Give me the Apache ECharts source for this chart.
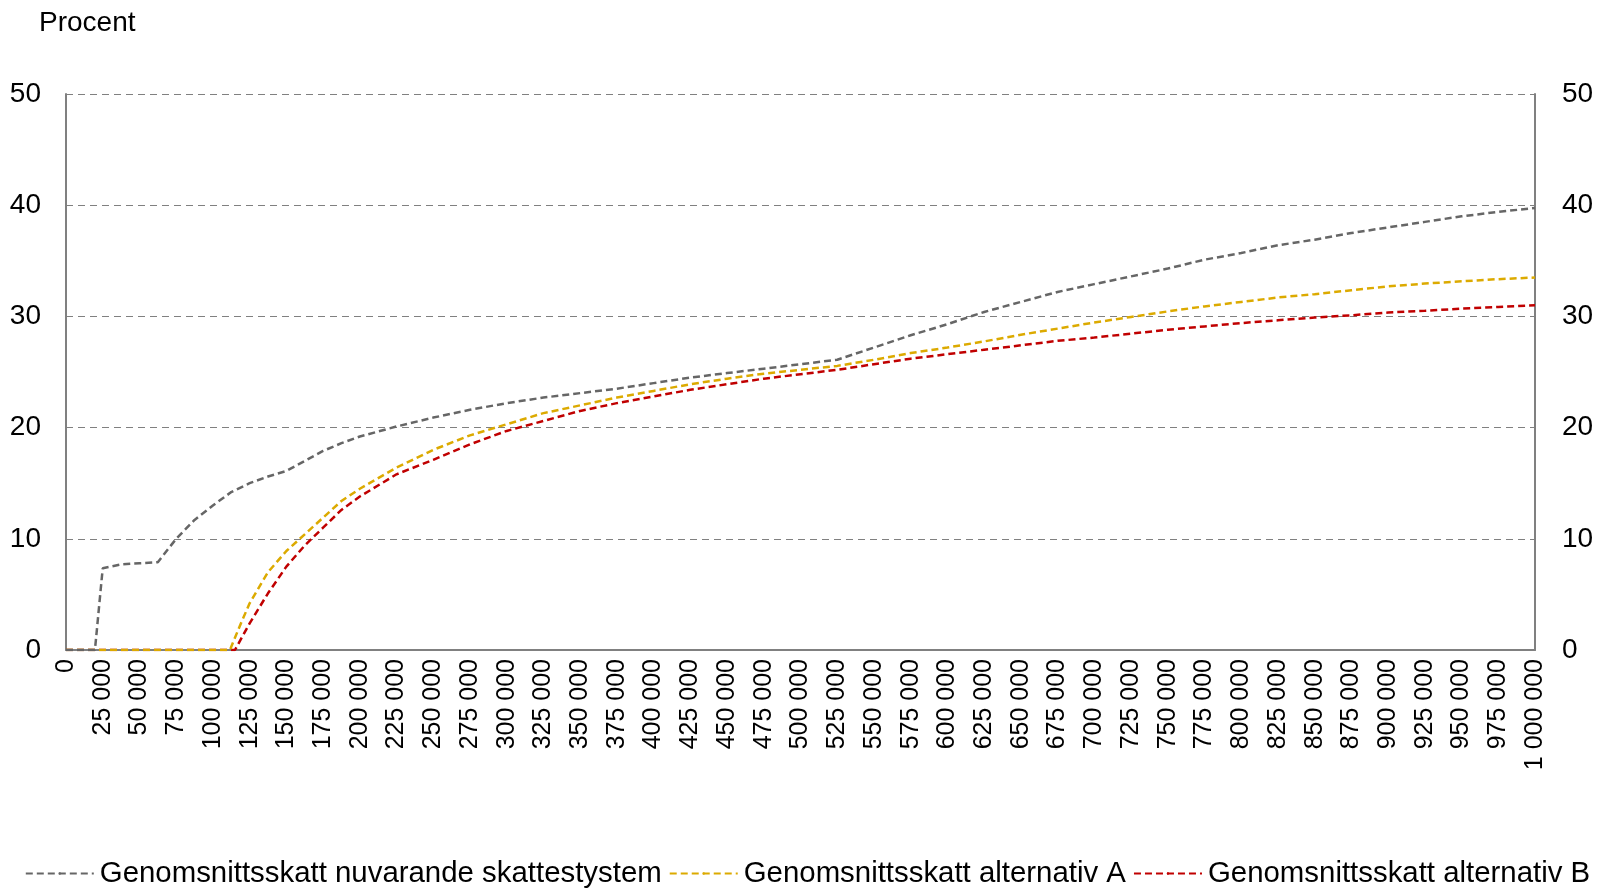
<!DOCTYPE html>
<html>
<head>
<meta charset="utf-8">
<script src="https://cdn.jsdelivr.net/npm/echarts@6/dist/echarts.min.js"></script>
<style>
  html, body { margin: 0; padding: 0; background: #fff; }
  #chart { width: 1615px; height: 891px; }
</style>
</head>
<body>
<div id="chart"></div>
<script>
// Genomsnittsskatt per inkomst (kr), procent
const incomeNow = [0, 19700, 25000, 37500, 50000, 62500, 75000, 87500, 100000, 112500, 125000, 137500, 150000, 162500, 175000, 187500, 200000, 225000, 250000, 275000, 300000, 325000, 350000, 375000, 400000, 425000, 450000, 475000, 500000, 525000, 550000, 575000, 600000, 625000, 650000, 675000, 700000, 725000, 750000, 775000, 800000, 825000, 850000, 875000, 900000, 925000, 950000, 975000, 1000000];
const taxNow = [0, 0, 7.35, 7.7, 7.8, 7.9, 10.0, 11.7, 13.0, 14.2, 15.0, 15.6, 16.1, 17.0, 17.9, 18.6, 19.2, 20.1, 20.9, 21.6, 22.2, 22.7, 23.1, 23.5, 24.0, 24.5, 24.9, 25.3, 25.7, 26.1, 27.2, 28.3, 29.3, 30.4, 31.3, 32.2, 32.9, 33.6, 34.3, 35.1, 35.7, 36.4, 36.9, 37.5, 38.0, 38.5, 39.0, 39.4, 39.75];

const incomeA = [0, 111600, 118750, 125000, 137500, 150000, 162500, 175000, 187500, 200000, 225000, 250000, 275000, 300000, 325000, 350000, 375000, 400000, 425000, 450000, 475000, 500000, 525000, 550000, 575000, 600000, 625000, 650000, 675000, 700000, 725000, 750000, 775000, 800000, 825000, 850000, 875000, 900000, 925000, 950000, 975000, 1000000];
const taxA = [0, 0, 2.3, 4.2, 7.0, 8.9, 10.4, 11.9, 13.4, 14.5, 16.4, 18.0, 19.3, 20.3, 21.3, 22.0, 22.7, 23.3, 23.9, 24.4, 24.85, 25.2, 25.55, 26.1, 26.7, 27.2, 27.75, 28.35, 28.9, 29.45, 29.95, 30.45, 30.9, 31.3, 31.7, 32.0, 32.35, 32.7, 32.95, 33.15, 33.35, 33.5];

const incomeB = [0, 115000, 125000, 137500, 150000, 162500, 175000, 187500, 200000, 225000, 250000, 275000, 300000, 325000, 350000, 375000, 400000, 425000, 450000, 475000, 500000, 525000, 550000, 575000, 600000, 625000, 650000, 675000, 700000, 725000, 750000, 775000, 800000, 825000, 850000, 875000, 900000, 925000, 950000, 975000, 1000000];
const taxB = [0, 0, 2.4, 5.1, 7.5, 9.4, 11.0, 12.6, 13.8, 15.8, 17.1, 18.5, 19.7, 20.6, 21.5, 22.2, 22.8, 23.4, 23.9, 24.4, 24.8, 25.2, 25.7, 26.2, 26.6, 27.0, 27.4, 27.8, 28.1, 28.45, 28.8, 29.1, 29.4, 29.65, 29.9, 30.1, 30.35, 30.5, 30.7, 30.85, 31.0];

const seriesNames = ['Genomsnittsskatt nuvarande skattestystem', 'Genomsnittsskatt alternativ A', 'Genomsnittsskatt alternativ B'];
const seriesColors = ['#666666', '#dcaa00', '#c00000'];

function pairs(xs, ys) {
  return xs.map(function (x, i) { return [x, ys[i]]; });
}

function fmtKr(v) {
  return String(v).replace(/\B(?=(\d{3})+(?!\d))/g, ' ');
}

const font = '"Liberation Sans", Arial, sans-serif';
const chart = echarts.init(document.getElementById('chart'));

const lines = [pairs(incomeNow, taxNow), pairs(incomeA, taxA), pairs(incomeB, taxB)];

chart.setOption({
  animation: false,
  textStyle: { fontFamily: font, color: '#000' },
  title: {
    text: 'Procent', left: 34, top: 4,
    textStyle: { fontFamily: font, fontSize: 28, fontWeight: 'normal', color: '#000' }
  },
  grid: { left: 66, right: 80, top: 94, bottom: 241 },
  legend: {
    bottom: -2, left: 'center',
    itemWidth: 68, itemHeight: 3, itemGap: 7,
    textStyle: { fontFamily: font, fontSize: 29.4, color: '#000', padding: [0, 0, 0, 1] },
    data: seriesNames
  },
  xAxis: {
    type: 'value', min: 0, max: 1000000, interval: 25000,
    axisLine: { lineStyle: { color: '#808080', width: 2 } },
    axisTick: { show: false },
    splitLine: { show: false },
    axisLabel: {
      rotate: 90, margin: 9, fontSize: 25, color: '#000', fontFamily: font,
      formatter: fmtKr
    }
  },
  yAxis: [
    {
      type: 'value', min: 0, max: 50, interval: 10,
      axisLine: { show: true, lineStyle: { color: '#808080', width: 2 } },
      axisTick: { show: false },
      splitLine: { lineStyle: { color: '#808080', type: [7, 5], width: 1.2 } },
      axisLabel: { margin: 25, fontSize: 28, color: '#000', fontFamily: font }
    },
    {
      type: 'value', min: 0, max: 50, interval: 10, position: 'right',
      axisLine: { show: true, lineStyle: { color: '#808080', width: 2 } },
      axisTick: { show: false },
      splitLine: { show: false },
      axisLabel: { margin: 27, fontSize: 28, color: '#000', fontFamily: font }
    }
  ],
  series: lines.map(function (d, i) {
    return {
      name: seriesNames[i], type: 'line', data: d, symbol: 'none',
      z: 3 - i + 2,
      itemStyle: { color: seriesColors[i] },
      lineStyle: { color: seriesColors[i], width: 2.5, type: [7, 4] }
    };
  })
});
</script>
</body>
</html>
